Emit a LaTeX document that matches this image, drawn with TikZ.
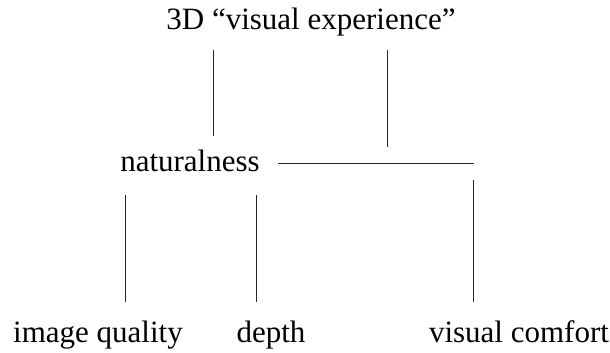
\documentclass[tikz,border=0pt]{standalone}
\usepackage{fontspec}
\setmainfont{Liberation Serif}
\usepackage{tikz}
\usetikzlibrary{positioning}

\begin{document}
\begin{tikzpicture}[
    x=1pt, y=1pt,
    label/.style={anchor=base, inner sep=0pt, font=\fontsize{31}{36}\selectfont},
    link/.style={line width=0.8pt, black!85}
]
    \useasboundingbox (0,0) rectangle (610,353);

    % Row 1: overall experience
    \node[label] (experience) at (311,323) {3D “visual experience”};

    % Row 2
    \node[label] (naturalness) at (190,181) {naturalness};

    % Row 3: attributes
    \node[label] (quality) at (98,10) {image quality};
    \node[label] (depth) at (271,10) {depth};
    \node[label] (comfort) at (519,10) {visual comfort};

    % Line ends
    \coordinate (natTop) at (213,303);
    \coordinate (natBot) at (213,217);
    \coordinate (comTop) at (387,303);
    \coordinate (comBot) at (387,206);
    \coordinate (barL) at (278,190);
    \coordinate (barR) at (474,190);
    \coordinate (qualTop) at (125,158);
    \coordinate (qualBot) at (125,51);
    \coordinate (depTop) at (256,158);
    \coordinate (depBot) at (256,51);
    \coordinate (cmfTop) at (473,173);
    \coordinate (cmfBot) at (473,51);

    % Lines
    \draw[link] (natTop) -- (natBot);
    \draw[link] (comTop) -- (comBot);
    \draw[link] (barL) -- (barR);
    \draw[link] (qualTop) -- (qualBot);
    \draw[link] (depTop) -- (depBot);
    \draw[link] (cmfTop) -- (cmfBot);
\end{tikzpicture}
\end{document}
